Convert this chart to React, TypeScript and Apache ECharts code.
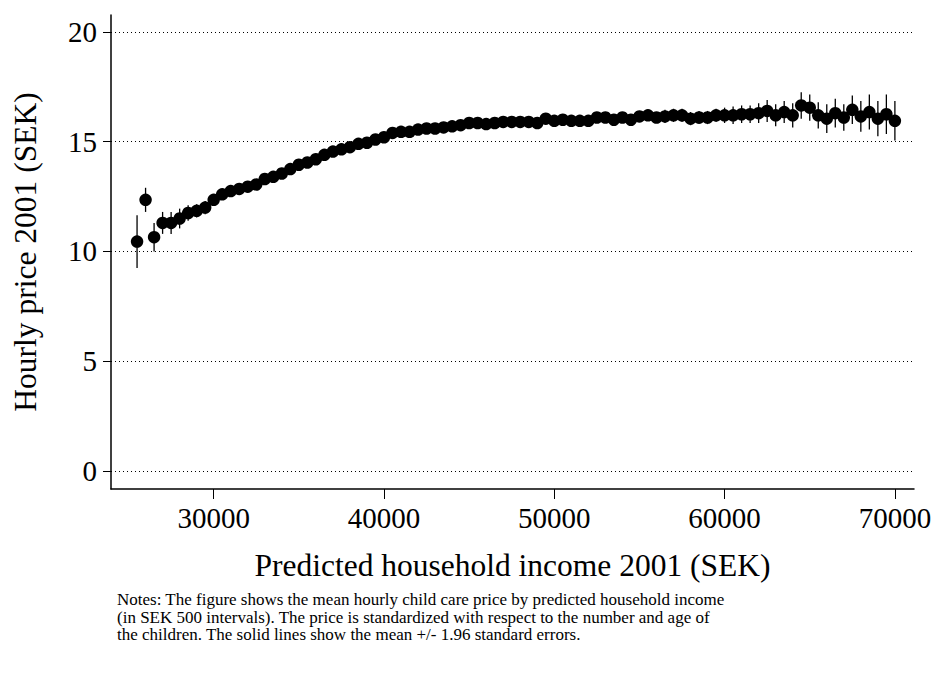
import React, { useEffect, useRef } from "react";
import * as echarts from "echarts";

const incomes: number[] = [];
for (let v = 25500; v <= 70000; v += 500) incomes.push(v);

const means = [
  10.45, 12.35, 10.65, 11.3, 11.3, 11.5, 11.75, 11.85, 12.0, 12.35,
  12.6, 12.75, 12.85, 12.95, 13.05, 13.3, 13.4, 13.55, 13.75, 13.95,
  14.05, 14.2, 14.4, 14.55, 14.65, 14.75, 14.9, 14.95, 15.1, 15.2,
  15.4, 15.45, 15.45, 15.55, 15.6, 15.6, 15.65, 15.7, 15.75, 15.85,
  15.85, 15.8, 15.85, 15.9, 15.9, 15.9, 15.9, 15.85, 16.05, 15.95,
  16.0, 15.95, 15.95, 15.95, 16.1, 16.1, 16.0, 16.1, 16.0, 16.15,
  16.2, 16.1, 16.15, 16.2, 16.2, 16.05, 16.1, 16.1, 16.2, 16.2,
  16.2, 16.25, 16.25, 16.3, 16.4, 16.2, 16.35, 16.2, 16.65, 16.55,
  16.2, 16.05, 16.3, 16.1, 16.45, 16.15, 16.35, 16.05, 16.25, 15.95,
];

const halfCI = [
  1.2, 0.55, 0.65, 0.5, 0.5, 0.45, 0.35, 0.3, 0.3, 0.25,
  0.25, 0.25, 0.2, 0.2, 0.2, 0.2, 0.2, 0.2, 0.15, 0.15,
  0.15, 0.15, 0.15, 0.15, 0.15, 0.15, 0.15, 0.15, 0.15, 0.15,
  0.15, 0.15, 0.15, 0.15, 0.15, 0.15, 0.15, 0.15, 0.15, 0.15,
  0.15, 0.15, 0.15, 0.15, 0.15, 0.15, 0.15, 0.2, 0.2, 0.2,
  0.2, 0.2, 0.2, 0.2, 0.25, 0.25, 0.25, 0.25, 0.25, 0.25,
  0.25, 0.25, 0.3, 0.3, 0.3, 0.3, 0.3, 0.3, 0.3, 0.35,
  0.4, 0.4, 0.4, 0.45, 0.5, 0.5, 0.5, 0.55, 0.6, 0.6,
  0.6, 0.65, 0.65, 0.6, 0.65, 0.7, 0.8, 0.8, 0.9, 0.9,
];

const yTicks = [0, 5, 10, 15, 20];
const xTicks = [30000, 40000, 50000, 60000, 70000];
const noteLines = [
  "Notes: The figure shows the mean hourly child care price by predicted household income",
  "(in SEK 500 intervals). The price is standardized with respect to the number and age of",
  "the children. The solid lines show the mean +/- 1.96 standard errors.",
];

const FONT = "Liberation Serif";

export default function App() {
  const ref = useRef<HTMLDivElement>(null);
  useEffect(() => {
    const chart = echarts.init(ref.current!, null, { renderer: "svg" });
    const errData = incomes.map((x, i) => [x, means[i] - halfCI[i], means[i] + halfCI[i]]);
    chart.setOption({
      animation: false,
      backgroundColor: "#fff",
      grid: { left: 103, right: 27, top: 7, bottom: 182, outerBoundsMode: "none", containLabel: false },
      xAxis: {
        type: "value",
        min: 23970,
        max: 71122,
        axisLine: { show: true, onZero: false, lineStyle: { color: "#000", width: 1.5 } },
        axisTick: { show: true, length: 10, lineStyle: { color: "#000" }, customValues: xTicks },
        axisLabel: {
          fontFamily: FONT, fontSize: 29, color: "#000", margin: 14, customValues: xTicks,
          formatter: (v: number) => String(v),
        },
        splitLine: { show: false },
        name: "Predicted household income 2001 (SEK)",
        nameLocation: "middle",
        nameGap: 60,
        nameTextStyle: { fontFamily: FONT, fontSize: 31.5, color: "#000" },
      },
      yAxis: {
        type: "value",
        min: -0.82,
        max: 20.77,
        axisLine: { show: true, onZero: false, lineStyle: { color: "#000", width: 1.5 } },
        axisTick: { show: true, length: 8, lineStyle: { color: "#000" }, customValues: yTicks },
        axisLabel: { fontFamily: FONT, fontSize: 29, color: "#000", margin: 14, customValues: yTicks },
        splitLine: { show: false },
        name: "Hourly price 2001 (SEK)",
        nameLocation: "middle",
        nameGap: 70,
        nameTextStyle: { fontFamily: FONT, fontSize: 31.5, color: "#000" },
      },
      series: [
        {
          type: "line",
          data: [],
          markLine: {
            silent: true,
            symbol: "none",
            label: { show: false },
            lineStyle: { type: [1, 3], color: "#000", width: 1 },
            data: yTicks.map((v) => ({ yAxis: v })),
          },
        },
        {
          type: "custom",
          data: errData,
          renderItem: (params: any, api: any) => {
            const x = api.value(0);
            const lo = api.coord([x, api.value(1)]);
            const hi = api.coord([x, api.value(2)]);
            return {
              type: "line",
              shape: { x1: lo[0], y1: lo[1], x2: hi[0], y2: hi[1] },
              style: { stroke: "#000", lineWidth: 1.3 },
            };
          },
        },
        {
          type: "scatter",
          data: incomes.map((x, i) => [x, means[i]]),
          symbolSize: 12.5,
          itemStyle: { color: "#000", opacity: 1 },
        },
      ],
      graphic: noteLines.map((t, i) => ({
        type: "text",
        left: 109,
        top: 583 + i * 17.5,
        style: { text: t, fontFamily: FONT, fontSize: 17, lineHeight: 17, fill: "#000" },
      })),
    });
    return () => chart.dispose();
  }, []);
  return <div ref={ref} style={{ width: 933, height: 663 }} />;
}
